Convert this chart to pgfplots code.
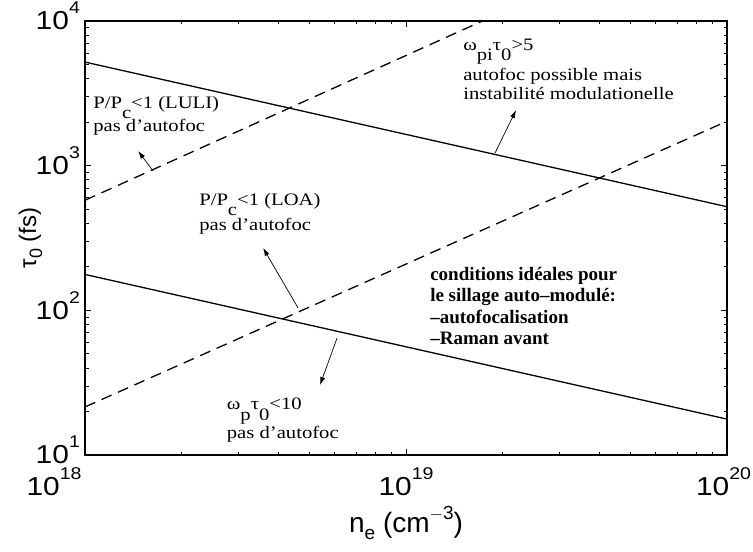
\documentclass[border=0pt]{standalone}
\usepackage{fontspec}
\setmainfont{Liberation Serif}[FakeStretch=1.18]
\setsansfont{Liberation Sans}
\newfontfamily\ticksf{Liberation Sans}[FakeStretch=1.15]
\newfontfamily\plainserif{Liberation Serif}
\usepackage{pgfplots}
\pgfplotsset{compat=1.18}
\usetikzlibrary{arrows.meta}

% power-of-ten tick label, set in the text font
\newcommand\pw[1]{{\ticksf\fontsize{26}{26}\selectfont 10\raisebox{16pt}{\fontsize{17}{17}\selectfont #1}}}
% low subscript in annotations
\newcommand\lo[1]{\raisebox{-0.6em}[0pt][0pt]{#1}}

\begin{document}
\begin{tikzpicture}
\begin{axis}[
  at={(0,0)}, anchor=south west,
  scale only axis, width=642pt, height=434pt,
  xmode=log, ymode=log,
  xmin=1e18, xmax=1e20, ymin=10, ymax=1e4,
  xtick={1e18,1e19,1e20},
  ytick={10,100,1000,10000},
  minor xtick={2e18,3e18,4e18,5e18,6e18,7e18,8e18,9e18,2e19,3e19,4e19,5e19,6e19,7e19,8e19,9e19},
  minor ytick={20,30,40,50,60,70,80,90,200,300,400,500,600,700,800,900,2000,3000,4000,5000,6000,7000,8000,9000},
  xticklabels={\pw{18}\hspace*{62pt}, \pw{19}, \pw{20}\hspace*{7pt}},
  yticklabels={\pw{1}, \pw{2}, \pw{3}, \pw{4}},
  xticklabel style={anchor=north, inner sep=0pt, yshift=-12pt},
  yticklabel style={anchor=base east, inner sep=0pt, xshift=-5pt, yshift=-9pt},
  tick align=inside,
  major tick length=6pt, minor tick length=3.5pt,
  every tick/.style={black, line width=0.8pt},
  axis line style={line width=1.2pt},
  xlabel={n\raisebox{-7pt}{\fontsize{19}{19}\selectfont e} (cm\raisebox{13pt}{\fontsize{19}{19}\selectfont $-$3})},
  ylabel={τ\raisebox{-6pt}{\fontsize{18}{18}\selectfont 0} (fs)},
  xlabel style={font=\sffamily\fontsize{28}{28}\selectfont, at={(axis description cs:0.5,-0.1797)}, anchor=base},
  ylabel style={font=\sffamily\fontsize{24}{24}\selectfont, at={(axis description cs:-0.0763,0.5)}, anchor=base},
]

% solid limits
\addplot[black, line width=1.3pt] coordinates {(1e18,5200) (1e20,520)};
\addplot[black, line width=1.3pt] coordinates {(1e18,177) (1e20,17.7)};
% dashed limits
\addplot[black, line width=1.3pt, dash pattern=on 11pt off 7pt] coordinates {(1e18,577) (1.73e19,10000)};
\addplot[black, line width=1.3pt, dash pattern=on 11pt off 7pt] coordinates {(1e18,21.5) (1e20,2030)};

\begin{scope}[every node/.style={anchor=base west, inner sep=0pt, font=\fontsize{17.5}{17.5}\selectfont}]
  \node at (rel axis cs:0.0125,0.7995) {P/P\lo{c}<1 (LULI)};
  \node at (rel axis cs:0.0125,0.745) {pas d’autofoc};
  \node at (rel axis cs:0.1776,0.576) {P/P\lo{c}<1 (LOA)};
  \node at (rel axis cs:0.1776,0.518) {pas d’autofoc};
  \node at (rel axis cs:0.5888,0.933) {ω\lo{pi}τ\lo{0}>5};
  \node at (rel axis cs:0.5888,0.862) {autofoc possible mais};
  \node at (rel axis cs:0.5888,0.818) {instabilité modulationelle};
  \node at (rel axis cs:0.2206,0.1037) {ω\lo{p}τ\lo{0}<10};
  \node at (rel axis cs:0.2206,0.0369) {pas d’autofoc};
\end{scope}
\begin{scope}[every node/.style={anchor=base west, inner sep=0pt, font=\plainserif\bfseries\fontsize{19}{19}\selectfont}]
  \node at (rel axis cs:0.5374,0.4032) {conditions idéales pour};
  \node at (rel axis cs:0.5374,0.3532) {le sillage auto–modulé:};
  \node at (rel axis cs:0.5374,0.3034) {–autofocalisation};
  \node at (rel axis cs:0.5374,0.2535) {–Raman avant};
\end{scope}

\begin{scope}[-{Latex[length=8pt,width=5pt]}, line width=0.7pt]
  \draw (rel axis cs:0.1059,0.6544) -- (rel axis cs:0.0826,0.7005);
  \draw (rel axis cs:0.3318,0.3387) -- (rel axis cs:0.2773,0.4770);
  \draw (rel axis cs:0.6386,0.6959) -- (rel axis cs:0.6713,0.7949);
  \draw (rel axis cs:0.3925,0.2696) -- (rel axis cs:0.3660,0.1613);
\end{scope}
\end{axis}
\pgfresetboundingbox
\path (-85pt,-97pt) rectangle (668pt,455pt);
\end{tikzpicture}
\end{document}
